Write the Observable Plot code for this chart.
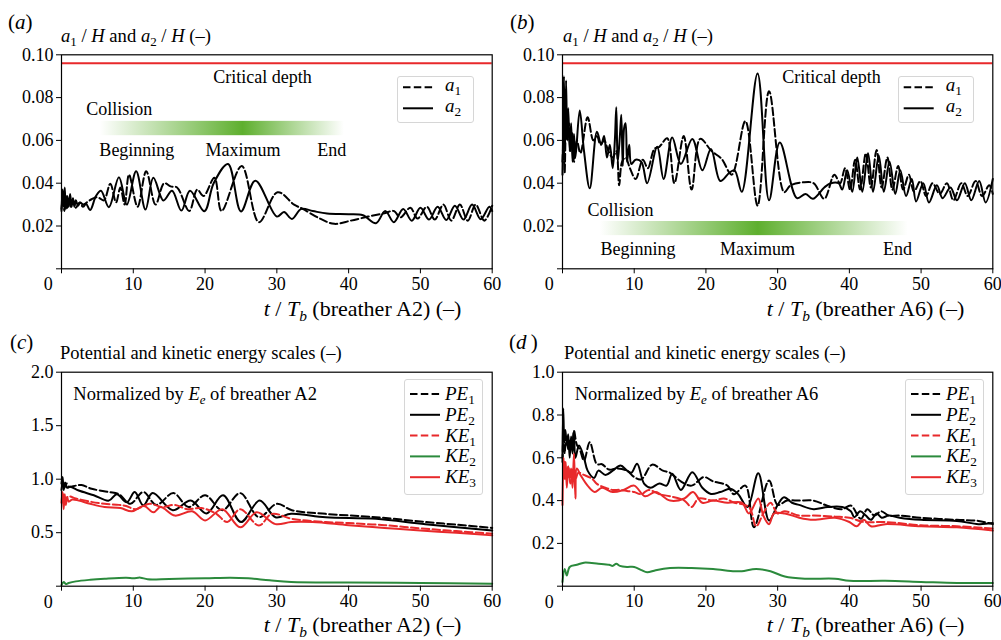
<!DOCTYPE html>
<html><head><meta charset="utf-8">
<script src="https://cdn.jsdelivr.net/npm/d3@7"></script>
<script src="https://cdn.jsdelivr.net/npm/@observablehq/plot@0.6"></script>
<style>
body{margin:0;background:#fff;}
#fig{position:relative;width:1001px;height:640px;overflow:hidden;font-family:"Liberation Serif","Times New Roman",serif;color:#000;background:#fff;}
#fig svg{display:block;font-family:"Liberation Serif","Times New Roman",serif;}
#fig svg text{font-family:"Liberation Serif","Times New Roman",serif;}
.panel{position:absolute;}
.t{position:absolute;white-space:nowrap;line-height:1;}
.t sub{font-size:0.7em;vertical-align:-0.32em;line-height:0;}
.lg{position:absolute;border:1px solid #d6d6d6;border-radius:3px;box-sizing:border-box;background:rgba(255,255,255,0.85);}
</style></head>
<body><div id="fig"></div>
<script>
// ---------------- data ----------------
const xTicks = [0, 10, 20, 30, 40, 50, 60];
const yTicksAB = [0, 0.02, 0.04, 0.06, 0.08, 0.10];
const yTicksC = [0, 0.5, 1.0, 1.5, 2.0];
const yTicksD = [0, 0.2, 0.4, 0.6, 0.8, 1.0];
const criticalDepth = 0.096;

// panel (a): breather A2, a1/H (dashed) and a2/H (solid)
const a_a1 = [[0,0.028],[0.2,0.033],[0.4,0.027],[0.6,0.034],[0.8,0.028],[1.0,0.033],[1.3,0.029],[1.6,0.032],[2.0,0.0285],[2.5,0.031],[3.0,0.029],[3.5,0.031],[4.2,0.0325],[5.0,0.0335],[5.9,0.032],[6.8,0.0397],[7.6,0.031],[8.2,0.038],[8.8,0.030],[9.4,0.044],[10.6,0.029],[11.8,0.0456],[13.1,0.030],[14.3,0.040],[15.2,0.0385],[16.1,0.038],[17.8,0.027],[18.9,0.037],[19.8,0.034],[21.3,0.0425],[22.3,0.027],[25.1,0.048],[27.5,0.0218],[30.1,0.0358],[32.4,0.030],[33.6,0.028],[36.1,0.0233],[38.0,0.021],[40.3,0.0225],[42.7,0.0244],[45.0,0.026],[46.3,0.027],[47.2,0.024],[48.6,0.0285],[49.6,0.0235],[50.9,0.029],[52.0,0.023],[53.2,0.030],[54.3,0.0225],[55.5,0.030],[56.6,0.0225],[57.7,0.030],[58.9,0.0225],[60,0.0295]];
const a_a2 = [[0,0.027],[0.15,0.037],[0.3,0.029],[0.45,0.038],[0.6,0.028],[0.8,0.034],[1.0,0.029],[1.2,0.035],[1.4,0.029],[1.6,0.033],[1.8,0.029],[2.0,0.032],[2.3,0.0295],[2.6,0.031],[3.0,0.030],[3.4,0.0305],[4.0,0.0275],[4.8,0.034],[5.5,0.0365],[6.6,0.0288],[8.0,0.0428],[9.1,0.030],[10.4,0.0456],[11.7,0.0277],[12.8,0.0425],[14.2,0.0319],[15.4,0.0365],[16.7,0.0272],[17.9,0.0365],[19.9,0.0269],[21.2,0.040],[23.2,0.049],[25.0,0.0268],[27.0,0.0412],[30.0,0.0244],[31.0,0.0265],[32.1,0.0233],[33.4,0.028],[35,0.027],[37,0.0258],[40,0.0255],[42,0.025],[43.8,0.0213],[45.1,0.027],[46.3,0.0218],[47.6,0.028],[48.8,0.0225],[50.0,0.0285],[51.2,0.023],[52.4,0.029],[53.6,0.0228],[54.8,0.0295],[56.0,0.023],[57.2,0.030],[58.4,0.0232],[59.6,0.029],[60,0.027]];

// panel (b): breather A6
const b_a1 = [[0,0.05],[0.15,0.06],[0.3,0.045],[0.5,0.07],[0.7,0.06],[0.9,0.068],[1.1,0.055],[1.3,0.064],[1.6,0.05],[2.0,0.06],[2.5,0.054],[3.5,0.0708],[4.3,0.06],[4.8,0.062],[5.3,0.058],[5.8,0.06],[6.4,0.055],[7.0,0.052],[7.5,0.055],[7.9,0.039],[8.3,0.05],[8.8,0.052],[9.4,0.047],[10.2,0.042],[11.2,0.051],[11.9,0.047],[12.8,0.056],[13.5,0.057],[14.6,0.061],[15.6,0.040],[16.9,0.062],[18.0,0.037],[19.2,0.0607],[20.8,0.055],[22.2,0.0513],[23.6,0.044],[25.5,0.069],[27.2,0.0295],[28.8,0.083],[30.9,0.0358],[31.8,0.039],[33.5,0.0404],[35.0,0.040],[36.5,0.0327],[37.9,0.044],[38.7,0.040],[39.4,0.047],[40.1,0.037],[40.8,0.051],[41.5,0.037],[42.3,0.054],[43.0,0.038],[43.8,0.0555],[44.5,0.038],[45.3,0.052],[46.0,0.037],[46.8,0.048],[47.5,0.037],[48.3,0.044],[49.0,0.036],[49.9,0.041],[50.7,0.034],[51.6,0.040],[52.6,0.035],[53.6,0.040],[54.5,0.032],[55.6,0.040],[56.5,0.034],[57.6,0.041],[58.5,0.034],[59.5,0.039],[60,0.035]];
const b_a2 = [[0,0.044],[0.1,0.065],[0.2,0.09],[0.35,0.055],[0.5,0.088],[0.65,0.06],[0.8,0.075],[1.0,0.055],[1.2,0.068],[1.4,0.05],[1.6,0.063],[1.8,0.052],[2.4,0.074],[3.0,0.055],[3.8,0.0376],[4.8,0.064],[5.4,0.058],[5.8,0.062],[6.2,0.052],[6.6,0.058],[7.0,0.047],[7.3,0.06],[7.5,0.0755],[7.7,0.05],[8.0,0.062],[8.2,0.072],[8.4,0.048],[8.6,0.066],[8.8,0.068],[9.0,0.05],[9.3,0.058],[9.6,0.049],[10.2,0.051],[11.0,0.050],[11.8,0.040],[13.2,0.057],[14.1,0.042],[15.3,0.0614],[16.5,0.049],[18.1,0.0607],[19.5,0.046],[20.7,0.056],[22.0,0.041],[23.3,0.045],[24.0,0.046],[25.0,0.036],[27.2,0.0913],[28.8,0.032],[30.3,0.059],[32.7,0.033],[33.9,0.035],[34.9,0.0327],[36.5,0.038],[37.4,0.040],[38.5,0.040],[39.0,0.037],[39.7,0.046],[40.4,0.036],[41.1,0.052],[41.8,0.036],[42.6,0.054],[43.3,0.036],[44.1,0.053],[44.8,0.036],[45.6,0.050],[46.4,0.035],[47.1,0.046],[47.9,0.034],[48.7,0.042],[49.3,0.0315],[50.3,0.040],[51.1,0.031],[52.2,0.039],[53.0,0.033],[54.1,0.038],[55.0,0.032],[56.1,0.040],[57.0,0.032],[58.1,0.041],[59.0,0.031],[60,0.042]];

// panel (c): energies, breather A2
const c_PE1 = [[0,0.90],[0.2,0.97],[0.4,0.92],[0.7,0.96],[1.0,0.93],[2.0,0.94],[2.8,0.945],[4.2,0.91],[6.6,0.88],[8.0,0.86],[9.6,0.77],[11.4,0.88],[13.2,0.76],[15.6,0.87],[17.7,0.74],[20.0,0.85],[22.4,0.71],[24.9,0.87],[27.5,0.645],[30.0,0.77],[32.1,0.71],[36.8,0.676],[43.8,0.645],[50.7,0.60],[55,0.575],[60,0.545]];
const c_PE2 = [[0,0.96],[0.15,1.02],[0.3,0.90],[0.5,0.97],[0.8,0.92],[1.2,0.93],[2.4,0.894],[4.5,0.85],[6.6,0.80],[7.7,0.86],[9.1,0.785],[10.2,0.88],[11.4,0.754],[12.7,0.87],[15.5,0.71],[18.0,0.80],[20.2,0.68],[22.5,0.85],[25.0,0.60],[27.6,0.80],[29.8,0.645],[32,0.676],[36.8,0.645],[43.8,0.63],[50.7,0.58],[60,0.52]];
const c_KE1 = [[0.2,0.86],[0.5,0.82],[1.0,0.84],[2.0,0.82],[4.0,0.79],[6.0,0.77],[8.0,0.76],[9.0,0.75],[10.3,0.72],[12.3,0.77],[14.0,0.74],[15.8,0.76],[17.5,0.72],[19.5,0.73],[21.5,0.68],[23.1,0.60],[24.9,0.72],[27.5,0.567],[29.3,0.676],[32.1,0.63],[36.8,0.60],[40,0.59],[45,0.57],[50,0.54],[55,0.515],[60,0.49]];
const c_KE2 = [[0,0.01],[0.3,0.04],[0.6,0.02],[1.0,0.03],[2.0,0.045],[4.0,0.06],[6.0,0.07],[9.0,0.08],[10.0,0.075],[11.0,0.08],[12.0,0.065],[15,0.068],[20,0.074],[23.5,0.08],[26,0.074],[29,0.055],[32,0.04],[40,0.035],[50,0.03],[60,0.022]];
const c_KE3 = [[0,0.78],[0.15,0.88],[0.3,0.72],[0.45,0.86],[0.6,0.76],[0.8,0.83],[1.0,0.79],[1.5,0.81],[2.4,0.80],[4.0,0.77],[6.0,0.74],[8.2,0.73],[9.8,0.70],[11.5,0.75],[12.8,0.69],[13.8,0.74],[15.8,0.66],[18.2,0.70],[20.0,0.615],[22.4,0.72],[24.9,0.55],[27.2,0.69],[29.8,0.58],[32,0.60],[35,0.60],[40,0.57],[45,0.545],[50,0.52],[55,0.50],[60,0.475]];

// panel (d): energies, breather A6
const d_PE1 = [[0,0.58],[0.15,0.72],[0.3,0.62],[0.5,0.70],[0.8,0.64],[1.0,0.68],[1.3,0.64],[1.6,0.727],[2.0,0.66],[2.4,0.64],[3.0,0.587],[3.8,0.673],[4.8,0.57],[5.5,0.57],[6.5,0.545],[7.5,0.55],[9.0,0.54],[10.0,0.51],[11.0,0.50],[12.5,0.568],[14.0,0.54],[15.0,0.53],[16.5,0.49],[18.0,0.47],[19.7,0.51],[21.0,0.49],[23.0,0.47],[23.9,0.43],[25.5,0.47],[26.7,0.276],[28.8,0.494],[30.0,0.38],[31.3,0.40],[33,0.40],[35,0.40],[37,0.375],[39,0.36],[40.2,0.377],[41.6,0.315],[42.5,0.36],[43.5,0.33],[44.4,0.35],[45.5,0.33],[47,0.33],[50,0.32],[55,0.31],[58,0.305],[60,0.29]];
const d_PE2 = [[0,0.60],[0.1,0.83],[0.25,0.68],[0.4,0.73],[0.6,0.66],[0.8,0.71],[1.0,0.60],[1.2,0.70],[1.4,0.62],[1.6,0.725],[1.8,0.60],[2.3,0.657],[3.0,0.60],[3.5,0.54],[4.4,0.506],[5.0,0.54],[6.0,0.52],[7.0,0.54],[8.1,0.564],[9.0,0.54],[9.6,0.53],[10.4,0.572],[11.4,0.478],[12.3,0.46],[13.5,0.48],[14.5,0.47],[15.3,0.525],[16.5,0.45],[18.1,0.533],[19.5,0.46],[20.7,0.431],[22.0,0.44],[23.4,0.455],[24.5,0.43],[25.8,0.37],[27.3,0.528],[28.8,0.307],[30.0,0.38],[30.9,0.416],[32,0.39],[33,0.38],[35,0.36],[37,0.37],[39,0.37],[40.2,0.35],[40.7,0.322],[41.5,0.35],[42.3,0.33],[43,0.31],[43.8,0.34],[44.5,0.32],[45.5,0.33],[47,0.32],[50,0.31],[55,0.305],[58,0.29],[60,0.295]];
const d_KE1 = [[0.3,0.58],[0.5,0.50],[0.8,0.56],[1.1,0.48],[1.4,0.55],[1.8,0.50],[2.2,0.53],[3.0,0.52],[4.2,0.50],[4.8,0.478],[6.0,0.46],[7.0,0.45],[8.0,0.45],[9.0,0.445],[10.0,0.44],[11.0,0.43],[12.0,0.45],[13.5,0.43],[15.0,0.42],[17.0,0.40],[18.0,0.37],[19.0,0.41],[21.0,0.40],[22.5,0.41],[24.0,0.39],[26.0,0.37],[27.0,0.28],[28.0,0.34],[29.0,0.39],[30.0,0.34],[31.0,0.35],[33,0.33],[35,0.33],[38,0.325],[40,0.32],[42,0.30],[45,0.30],[50,0.285],[55,0.28],[60,0.27]];
const d_KE2 = [[0,0.02],[0.3,0.08],[0.6,0.05],[1.0,0.09],[2.0,0.10],[3.0,0.11],[5.0,0.105],[6.5,0.10],[7.0,0.095],[7.5,0.105],[8.0,0.095],[9.0,0.09],[10.0,0.09],[11.0,0.075],[11.8,0.065],[13,0.075],[15,0.085],[18,0.085],[21,0.08],[24,0.07],[25,0.07],[27,0.08],[29,0.07],[31,0.045],[34,0.035],[38,0.035],[40,0.025],[45,0.025],[50,0.02],[55,0.015],[60,0.015]];
const d_KE3 = [[0,0.38],[0.15,0.60],[0.3,0.50],[0.45,0.58],[0.6,0.46],[0.8,0.56],[1.0,0.50],[1.2,0.55],[1.4,0.46],[1.6,0.62],[1.8,0.41],[2.0,0.55],[2.5,0.52],[3.5,0.47],[4.5,0.44],[5.5,0.46],[7.0,0.44],[8.5,0.45],[10.0,0.47],[11.5,0.42],[13.0,0.44],[15.0,0.40],[17.0,0.41],[18.2,0.44],[19.5,0.39],[21.0,0.40],[23.0,0.39],[25.0,0.39],[26.0,0.34],[27.3,0.41],[28.0,0.33],[28.8,0.29],[29.5,0.34],[31,0.34],[33,0.32],[35,0.31],[38,0.32],[40,0.30],[41,0.28],[42,0.31],[43,0.28],[45,0.29],[50,0.28],[55,0.275],[60,0.26]];

// collision bars: start, maximum, end (t) and y extent
const collisionA = {start: 5.4, peak: 25.3, end: 39.4, y1: 0.0622, y2: 0.0689};
const collisionB = {start: 5.3, peak: 27.3, end: 48.2, y1: 0.0155, y2: 0.0221};
// annotation texts (t, value of baseline)
const notesA = [
  {t: 28.0, v: 0.0866, label: "Critical depth"},
  {t: 8.06, v: 0.072, label: "Collision"},
  {t: 10.5, v: 0.0525, label: "Beginning"},
  {t: 25.27, v: 0.0525, label: "Maximum"},
  {t: 37.66, v: 0.0525, label: "End"}
];
const notesB = [
  {t: 37.5, v: 0.0866, label: "Critical depth"},
  {t: 8.09, v: 0.0249, label: "Collision"},
  {t: 10.53, v: 0.0065, label: "Beginning"},
  {t: 27.2, v: 0.0065, label: "Maximum"},
  {t: 46.7, v: 0.0065, label: "End"}
];

// ---------------- drawing ----------------
const RED = "#e8292b", GREEN = "#2b8a3c", BLACK = "#000000", BAR_GREEN = "#5eaf2e";
const DASH = "7.5,3.3";
const LW = 2;
const SERIF = "'Liberation Serif','Times New Roman',serif";
const fig = document.getElementById("fig");

function lineMark(data, color, dashed) {
  const o = {x: d => d[0], y: d => d[1], stroke: color, strokeWidth: LW, curve: "catmull-rom"};
  if (dashed) o.strokeDasharray = DASH;
  return Plot.line(data, o);
}

function makePanel(cfg) {
  const marks = [];
  if (cfg.critical != null) marks.push(Plot.ruleY([cfg.critical], {stroke: RED, strokeWidth: 2}));
  if (cfg.bar) marks.push(Plot.rect([cfg.bar], {x1: "start", x2: "end", y1: "y1", y2: "y2", fill: `url(#${cfg.id})`}));
  for (const s of cfg.series) marks.push(lineMark(s.data, s.color, s.dashed));
  if (cfg.notes) marks.push(Plot.text(cfg.notes, {x: "t", y: "v", text: "label", textAnchor: "middle", lineAnchor: "bottom", fontSize: 18, fontFamily: SERIF}));
  marks.push(Plot.frame({stroke: "black", strokeWidth: 1.2}));
  marks.push(Plot.axisX({ticks: xTicks, tickSize: 5, tickPadding: 3, tickFormat: d => d === 0 ? "" : String(d), label: null, fontSize: 18, fontFamily: SERIF}));
  marks.push(Plot.axisY({ticks: cfg.yTicks, tickSize: 5, tickPadding: 3, tickFormat: d => d === 0 ? "" : d.toFixed(cfg.dec), label: null, fontSize: 18, fontFamily: SERIF}));
  marks.push(Plot.text([{t: xTicks[0], v: cfg.yTicks[0]}], {x: "t", y: "v", text: () => String(xTicks[0]), textAnchor: "end", lineAnchor: "middle", dx: -8.7, dy: 15.7, fontSize: 18, fontFamily: SERIF}));
  const svg = Plot.plot({
    width: 500, height: 320,
    marginLeft: cfg.ml, marginRight: cfg.mr, marginTop: cfg.mt, marginBottom: cfg.mb,
    x: {domain: [xTicks[0], xTicks[xTicks.length - 1]]},
    y: {domain: [cfg.yTicks[0], cfg.yTicks[cfg.yTicks.length - 1]]},
    style: {fontFamily: SERIF, fontSize: "18px", background: "transparent", color: "black", overflow: "visible"},
    marks
  });
  if (cfg.bar) {
    const ns = "http://www.w3.org/2000/svg";
    const defs = document.createElementNS(ns, "defs");
    const g = document.createElementNS(ns, "linearGradient");
    g.setAttribute("id", cfg.id);
    g.setAttribute("x1", "0"); g.setAttribute("x2", "1"); g.setAttribute("y1", "0"); g.setAttribute("y2", "0");
    const p = (cfg.bar.peak - cfg.bar.start) / (cfg.bar.end - cfg.bar.start);
    for (const [off, op] of [[0, 0], [p, 1], [1, 0]]) {
      const st = document.createElementNS(ns, "stop");
      st.setAttribute("offset", off);
      st.setAttribute("stop-color", BAR_GREEN);
      st.setAttribute("stop-opacity", op);
      g.appendChild(st);
    }
    defs.appendChild(g);
    svg.insertBefore(defs, svg.firstChild);
  }
  const wrap = document.createElement("div");
  wrap.className = "panel";
  wrap.style.left = cfg.left + "px";
  wrap.style.top = cfg.top + "px";
  wrap.appendChild(svg);
  fig.appendChild(wrap);
}

makePanel({id: "gA", left: 0, top: 0, ml: 61, mr: 8.3, mt: 54.3, mb: 51.7, yTicks: yTicksAB, dec: 2, critical: criticalDepth, bar: collisionA, notes: notesA,
  series: [{data: a_a1, color: BLACK, dashed: true}, {data: a_a2, color: BLACK}]});
makePanel({id: "gB", left: 500, top: 0, ml: 62, mr: 7.7, mt: 54.3, mb: 51.7, yTicks: yTicksAB, dec: 2, critical: criticalDepth, bar: collisionB, notes: notesB,
  series: [{data: b_a1, color: BLACK, dashed: true}, {data: b_a2, color: BLACK}]});
makePanel({id: "gC", left: 0, top: 320, ml: 61, mr: 8.3, mt: 51.7, mb: 54.3, yTicks: yTicksC, dec: 1,
  series: [{data: c_PE1, color: BLACK, dashed: true}, {data: c_PE2, color: BLACK}, {data: c_KE1, color: RED, dashed: true}, {data: c_KE2, color: GREEN}, {data: c_KE3, color: RED}]});
makePanel({id: "gD", left: 500, top: 320, ml: 62, mr: 7.7, mt: 51.7, mb: 54.3, yTicks: yTicksD, dec: 1,
  series: [{data: d_PE1, color: BLACK, dashed: true}, {data: d_PE2, color: BLACK}, {data: d_KE1, color: RED, dashed: true}, {data: d_KE2, color: GREEN}, {data: d_KE3, color: RED}]});

// ---------------- text overlays ----------------
function label(html, x, base, size, anchor) {
  const d = document.createElement("div");
  d.className = "t";
  d.innerHTML = html;
  d.style.fontSize = size + "px";
  d.style.left = x + "px";
  d.style.top = (base - 0.8375 * size) + "px";
  if (anchor === "middle") d.style.transform = "translateX(-50%)";
  fig.appendChild(d);
  return d;
}
const yTitleAB = "<i>a</i><sub>1</sub> / <i>H</i> and <i>a</i><sub>2</sub> / <i>H</i> (–)";
const yTitleCD = "Potential and kinetic energy scales (–)";
const xTitle = n => `<i>t</i> / <i>T<sub>b</sub></i> (breather ${n}) (–)`;
const normText = n => `Normalized by <i>E<sub>e</sub></i> of breather ${n}`;

label("(<i>a</i>)", 8, 29.5, 21);
label("(<i>b</i>)", 510, 29.5, 21);
label("(<i>c</i>)", 10, 349.5, 21);
label("(<i>d</i>&thinsp;)", 509, 349.5, 21);
label(yTitleAB, 61, 42.3, 18.6);
label(yTitleAB, 563, 42.3, 18.6);
label(yTitleCD, 60, 359.3, 18.5);
label(yTitleCD, 564, 359.3, 18.5);
label(xTitle("A2"), 362.5, 316, 22, "middle");
label(xTitle("A6"), 865.5, 316, 22, "middle");
label(xTitle("A2"), 362.5, 632, 22, "middle");
label(xTitle("A6"), 865.5, 632, 22, "middle");
label(normText("A2"), 73.3, 400, 18.5);
label(normText("A6"), 574.7, 400, 18.5);

// ---------------- legends ----------------
const legendAB = [{name: "<i>a</i><sub>1</sub>", color: BLACK, dashed: true}, {name: "<i>a</i><sub>2</sub>", color: BLACK}];
const legendCD = [
  {name: "<i>PE</i><sub>1</sub>", color: BLACK, dashed: true},
  {name: "<i>PE</i><sub>2</sub>", color: BLACK},
  {name: "<i>KE</i><sub>1</sub>", color: RED, dashed: true},
  {name: "<i>KE</i><sub>2</sub>", color: GREEN},
  {name: "<i>KE</i><sub>3</sub>", color: RED}
];
const ns = "http://www.w3.org/2000/svg";
const over = document.createElementNS(ns, "svg");
over.setAttribute("width", 1001); over.setAttribute("height", 640);
over.style.position = "absolute"; over.style.left = "0"; over.style.top = "0"; over.style.pointerEvents = "none";

function legend(items, bx, by, bw, bh, firstY, stepY, lx, baseOff) {
  const box = document.createElement("div");
  box.className = "lg";
  box.style.left = bx + "px"; box.style.top = by + "px"; box.style.width = bw + "px"; box.style.height = bh + "px";
  fig.appendChild(box);
  items.forEach((it, i) => {
    const cy = firstY + i * stepY;
    const l = document.createElementNS(ns, "line");
    l.setAttribute("x1", bx + 6); l.setAttribute("x2", bx + 36);
    l.setAttribute("y1", cy); l.setAttribute("y2", cy);
    l.setAttribute("stroke", it.color); l.setAttribute("stroke-width", LW);
    if (it.dashed) l.setAttribute("stroke-dasharray", DASH);
    over.appendChild(l);
    label(it.name, lx, cy + baseOff, 19);
  });
}
legend(legendAB, 397, 76, 77, 47, 87.3, 21, 445, 3.4);
legend(legendAB, 897.7, 76, 76, 47, 87.3, 21, 945.7, 3.4);
legend(legendCD, 404, 379, 79, 116, 394, 20.8, 445, 6);
legend(legendCD, 905, 379, 79, 116, 394, 20.8, 946, 6);
fig.appendChild(over);
</script>
</body></html>
